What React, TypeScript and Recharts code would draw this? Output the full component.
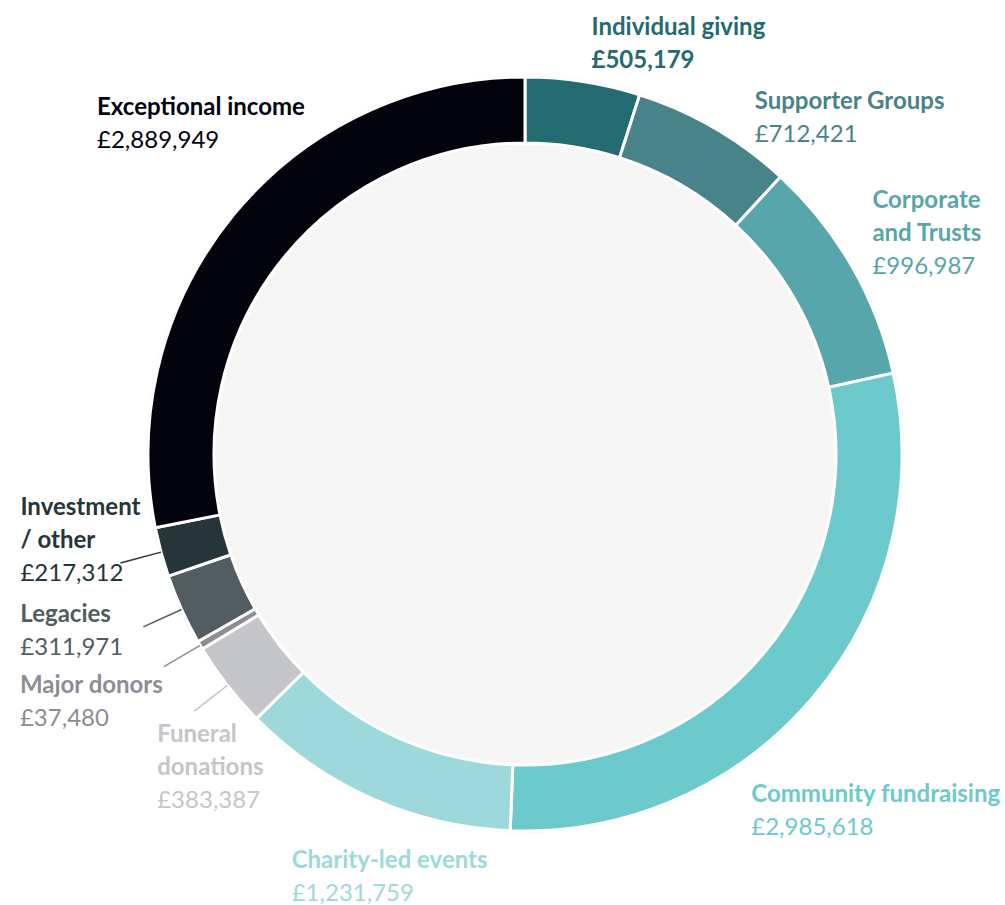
import React from 'react';
import { PieChart, Pie, Cell } from 'recharts';

// income sources, clockwise from 12 o'clock
const categories = [
  'Individual giving',
  'Supporter Groups',
  'Corporate and Trusts',
  'Community fundraising',
  'Charity-led events',
  'Funeral donations',
  'Major donors',
  'Legacies',
  'Investment / other',
  'Exceptional income',
];

const amounts = [505179, 712421, 996987, 2985618, 1231759, 383387, 37480, 311971, 217312, 2889949];

// how each label wraps
const labelLines = [
  ['Individual giving'],
  ['Supporter Groups'],
  ['Corporate', 'and Trusts'],
  ['Community fundraising'],
  ['Charity-led events'],
  ['Funeral', 'donations'],
  ['Major donors'],
  ['Legacies'],
  ['Investment', '/ other'],
  ['Exceptional income'],
];

const sliceColors = [
  '#236b70', '#48838a', '#57a6ac', '#6ccacc', '#9dd9db',
  '#c5c6c9', '#8c8d95', '#515d60', '#263539', '#03030d',
];

// label placement relative to the end of the leader (outerRadius + LEADER)
const labelOffsets = [
  { dx: 2, dy: -5, line: false },
  { dx: 19, dy: 17, line: false },
  { dx: -16, dy: -37, line: false },
  { dx: -95, dy: 79, line: false },
  { dx: -64, dy: 31, line: false },
  { dx: -37, dy: 31, line: true },
  { dx: -144, dy: 26, line: true },
  { dx: -123, dy: -5, line: true },
  { dx: -100, dy: -48, line: true },
  { dx: -104, dy: -73, line: false },
];

const LEADER = 42;
const LINE_H = 33;
const RAD = Math.PI / 180;

const data = categories.map((name, i) => ({ name, value: amounts[i] }));
const fmt = (v: number) => '£' + v.toLocaleString('en-GB');

const polar = (cx: number, cy: number, r: number, angle: number) => ({
  x: cx + r * Math.cos(-angle * RAD),
  y: cy + r * Math.sin(-angle * RAD),
});

const renderLabel = (props: any) => {
  const { cx, cy, midAngle, outerRadius, index } = props;
  const color = sliceColors[index];
  const off = labelOffsets[index];
  const start = polar(cx, cy, outerRadius, midAngle);
  const end = polar(cx, cy, outerRadius + LEADER, midAngle);
  const x = end.x + off.dx;
  const y = end.y + off.dy;
  const lines = labelLines[index];
  return (
    <g key={`lbl-${index}`}>
      {off.line && (
        <line x1={start.x} y1={start.y} x2={end.x} y2={end.y} stroke={color} strokeWidth={1.5} />
      )}
      <text x={x} y={y} fill={color} fontFamily="Lato, sans-serif" fontSize={24}>
        {lines.map((t, k) => (
          <tspan key={k} x={x} dy={k === 0 ? 0 : LINE_H} fontWeight={700}>{t}</tspan>
        ))}
        <tspan x={x} dy={LINE_H} fontWeight={index === 0 ? 700 : 400}>{fmt(amounts[index])}</tspan>
      </text>
    </g>
  );
};

export default function App() {
  return (
    <div style={{ position: 'absolute', left: 0, top: 0, width: 1005, height: 905, background: '#fff' }}>
      <PieChart width={1005} height={905} margin={{ top: 0, right: 0, bottom: 0, left: 0 }}>
        <Pie
          data={[{ name: 'bg', value: 1 }]}
          dataKey="value"
          cx={525}
          cy={454}
          innerRadius={0}
          outerRadius={379}
          fill="#f6f6f6"
          stroke="none"
          isAnimationActive={false}
        />
        <Pie
          data={data}
          dataKey="value"
          nameKey="name"
          cx={525}
          cy={454}
          innerRadius={311}
          outerRadius={377}
          startAngle={90}
          endAngle={-270}
          stroke="#fff"
          strokeWidth={3}
          label={renderLabel}
          labelLine={false}
          isAnimationActive={false}
        >
          {data.map((d, i) => (
            <Cell key={d.name} fill={sliceColors[i]} />
          ))}
        </Pie>
      </PieChart>
    </div>
  );
}
